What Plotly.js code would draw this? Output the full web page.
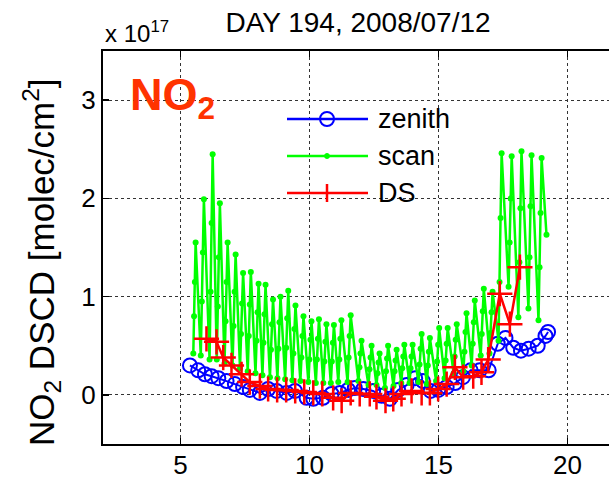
<!DOCTYPE html>
<html>
<head>
<meta charset="utf-8">
<script src="https://cdn.plot.ly/plotly-3.0.1.min.js"></script>
<style>
html, body { margin:0; padding:0; overflow:hidden; background:#fff; }
#chart { width:650px; height:481px; }
</style>
</head>
<body>
<div id="chart"></div>
<script>
// ---- data (units of 1e17 molec/cm^2, x in hours) ----
const zenithX = [5.37,5.69,5.95,6.21,6.47,6.79,7.11,7.43,7.69,8.08,8.40,8.73,9.12,9.44,9.89,10.15,10.53,10.86,11.18,11.50,11.76,12.09,12.47,12.80,13.12,13.44,13.77,14.10,14.40,14.70,15.00,15.32,15.65,15.95,16.25,16.60,16.95,17.30,17.60,17.90,18.20,18.50,18.85,19.15,19.25];
const zenithY = [0.30,0.25,0.21,0.19,0.17,0.14,0.11,0.08,0.05,0.02,0.06,0.04,0.02,0.04,-0.03,-0.04,-0.03,0.01,0.02,0.05,0.07,0.06,0.04,-0.01,-0.04,0.05,0.10,0.17,0.14,0.04,0.05,0.08,0.12,0.18,0.25,0.25,0.25,0.52,0.58,0.48,0.45,0.47,0.50,0.60,0.64];

const scanX = [
  5.50,5.53,5.56,5.59, 5.79,5.83,5.87,5.91, 6.13,6.17,6.21,6.25, 6.41,6.45,6.49,6.53,
  6.71,6.75,6.79,6.83, 7.02,7.06,7.10,7.14, 7.31,7.35,7.39,7.43, 7.61,7.65,7.69,7.73,
  7.91,7.95,7.99,8.03, 8.18,8.22,8.26,8.30, 8.47,8.51,8.55,8.59, 8.76,8.80,8.84,8.88,
  9.06,9.10,9.14,9.18, 9.34,9.38,9.42,9.46, 9.65,9.69,9.73,9.77, 9.96,10.00,10.04,10.08,
  10.25,10.29,10.33,10.37, 10.54,10.58,10.62,10.66, 10.83,10.87,10.91,10.95, 11.12,11.16,11.20,11.24,
  11.48,11.52,11.56,11.60, 11.90,11.94,11.98,12.02, 12.29,12.33,12.37,12.41, 12.60,12.64,12.68,12.72,
  12.93,12.97,13.01,13.05, 13.26,13.30,13.34,13.38, 13.56,13.60,13.64,13.68, 13.88,13.92,13.96,14.00,
  14.23,14.27,14.31,14.35, 14.55,14.59,14.63,14.67, 14.91,14.95,14.99,15.03, 15.24,15.28,15.32,15.36,
  15.59,15.63,15.67,15.71, 15.97,16.01,16.05,16.09, 16.29,16.33,16.37,16.41, 16.64,16.68,16.72,16.76,
  16.98,17.02,17.06,17.10, 17.33,17.37,17.41,17.45, 17.72,17.76,17.80,17.84, 18.10,18.14,18.18,18.22,
  18.49,18.53,18.57,18.61, 18.88,18.92,18.96,19.00, 19.19];
const scanY = [
  0.42,0.80,1.15,1.55, 0.40,0.95,1.45,1.99, 0.36,1.05,1.75,2.45, 0.36,0.90,1.40,1.95,
  0.32,0.75,1.15,1.55, 0.30,0.70,1.05,1.43, 0.27,0.62,0.93,1.24, 0.24,0.60,0.92,1.25,
  0.22,0.55,0.84,1.13, 0.20,0.53,0.82,1.12, 0.18,0.46,0.72,0.97, 0.17,0.47,0.74,1.00,
  0.16,0.48,0.78,1.06, 0.15,0.42,0.67,0.91, 0.14,0.38,0.60,0.80, 0.13,0.36,0.56,0.75,
  0.12,0.36,0.57,0.77, 0.12,0.34,0.54,0.72, 0.12,0.34,0.53,0.71, 0.13,0.36,0.57,0.76,
  0.13,0.38,0.60,0.81, 0.14,0.28,0.42,0.55, 0.10,0.26,0.38,0.50, 0.10,0.22,0.33,0.42,
  0.07,0.24,0.37,0.50, 0.09,0.24,0.35,0.46, 0.12,0.27,0.39,0.51, 0.12,0.27,0.39,0.51,
  0.13,0.31,0.47,0.62, 0.11,0.30,0.44,0.58, 0.14,0.34,0.51,0.68, 0.17,0.35,0.52,0.68,
  0.22,0.39,0.56,0.72, 0.24,0.44,0.64,0.83, 0.30,0.52,0.74,0.96, 0.40,0.62,0.85,1.08,
  0.42,0.63,0.84,1.05, 0.55,1.15,1.80,2.46, 1.10,1.55,2.00,2.43, 0.79,1.35,1.90,2.48,
  0.88,1.40,1.92,2.44, 0.76,1.30,1.85,2.41, 1.63];

const dsX = [6.01,6.40,6.66,6.98,7.37,7.69,8.08,8.40,8.75,9.10,9.45,9.80,10.15,10.50,10.92,11.25,11.60,11.95,12.34,12.60,12.95,13.25,13.57,13.96,14.35,14.67,14.99,15.32,15.64,15.96,16.35,16.67,16.93,17.38,17.77,18.16];
const dsY = [0.57,0.54,0.38,0.30,0.21,0.13,0.09,0.06,0.05,0.05,0.04,0.03,0.02,0.01,-0.03,-0.06,0.02,0.01,0.01,-0.02,-0.06,-0.04,0.01,0.04,0.02,0.02,0.06,0.11,0.28,0.18,0.19,0.23,0.36,1.03,0.72,1.30];

const seriesNames = ['zenith','scan','DS'];
const xTicks = [5,10,15,20];
const yTicks = [0,1,2,3];
const titleText = 'DAY 194, 2008/07/12';
const yTitle = 'NO<sub>2</sub> DSCD [molec/cm<sup>2</sup>]';

const FONT = 'Liberation Sans, Arial, Helvetica, sans-serif';
const colors = ['#0000ff','#00ff00','#ff0000'];

const traces = [
  {x: zenithX, y: zenithY, name: seriesNames[0], type:'scatter', mode:'lines+markers',
   line:{color:colors[0], width:2},
   marker:{symbol:'circle-open', size:14, color:colors[0], line:{width:2, color:colors[0]}}},
  {x: scanX, y: scanY, name: seriesNames[1], type:'scatter', mode:'lines+markers',
   line:{color:colors[1], width:2.5},
   marker:{symbol:'circle', size:6, color:colors[1]}},
  {x: dsX, y: dsY, name: seriesNames[2], type:'scatter', mode:'lines+markers',
   line:{color:colors[2], width:2.5},
   marker:{symbol:'cross-thin-open', size:18, color:colors[2], line:{width:2.5, color:colors[2]}}}
];

const L = 103, T = 51, B = 37, W = 650, H = 481;
const plotW = W - L, plotH = H - T - B;
const px = v => (v - L) / plotW;          // pixel -> paper x
const py = v => 1 - (v - T) / plotH;      // pixel -> paper y

const axisCommon = {
  showline:true, linecolor:'#000', linewidth:2, mirror:'ticks',
  ticks:'inside', ticklen:6, tickwidth:1.5, tickcolor:'#000',
  showgrid:true, gridcolor:'#333', griddash:'dot', gridwidth:1,
  zeroline:false, tickfont:{family:FONT, size:26, color:'#000'}
};

// hand-drawn legend (long MATLAB-style sample lines)
const legRows = [119, 156, 193];
const legX0 = 287, legX1 = 368, legMk = 327, legTxt = 376;
const shapes = [];
const annotations = [];
legRows.forEach((ry, i) => {
  shapes.push({type:'line', xref:'paper', yref:'paper', x0:px(legX0), x1:px(legX1), y0:py(ry), y1:py(ry),
               line:{color:colors[i], width:2.5}, layer:'above'});
  annotations.push({text:seriesNames[i], xref:'paper', yref:'paper', x:px(legTxt), y:py(ry),
                    xanchor:'left', yanchor:'middle', showarrow:false,
                    font:{family:FONT, size:27, color:'#000'}});
});
shapes.push({type:'circle', xref:'paper', yref:'paper', x0:px(legMk-7), x1:px(legMk+7),
             y0:py(legRows[0]-7), y1:py(legRows[0]+7), line:{color:colors[0], width:2},
             fillcolor:'rgba(0,0,0,0)', layer:'above'});
shapes.push({type:'circle', xref:'paper', yref:'paper', x0:px(legMk-2.5), x1:px(legMk+2.5),
             y0:py(legRows[1]-2.5), y1:py(legRows[1]+2.5), line:{color:colors[1], width:1},
             fillcolor:colors[1], layer:'above'});
shapes.push({type:'line', xref:'paper', yref:'paper', x0:px(legMk), x1:px(legMk),
             y0:py(legRows[2]-9), y1:py(legRows[2]+9), line:{color:colors[2], width:2.5}, layer:'above'});

annotations.push(
  {text:'x 10<sup>17</sup>', xref:'paper', yref:'paper', x:0, y:py(32),
   xanchor:'left', yanchor:'middle', showarrow:false, font:{family:FONT, size:24, color:'#000'}},
  {text:'<b>NO<sub>2</sub></b>', xref:'paper', yref:'paper', x:px(128), y:py(97),
   xanchor:'left', yanchor:'middle', showarrow:false, font:{family:FONT, size:45, color:'#ff3300'}},
  {text:yTitle, textangle:-90, xref:'paper', yref:'paper', x:px(41), y:py(262),
   xanchor:'center', yanchor:'middle', showarrow:false, font:{family:FONT, size:35, color:'#000'}}
);

const layout = {
  width: W, height: H,
  margin:{l:L, r:0, t:T, b:B, pad:0},
  paper_bgcolor:'#fff', plot_bgcolor:'#fff',
  showlegend:false,
  title:{text:titleText, font:{family:FONT, size:28, color:'#000'},
         xref:'paper', x:px(358), xanchor:'center',
         yref:'container', y:1-22/H, yanchor:'middle'},
  xaxis:Object.assign({}, axisCommon, {range:[2, 2+plotW/25.8], tickvals:xTicks, ticktext:xTicks.map(String), ticklabelstandoff:-3}),
  yaxis:Object.assign({}, axisCommon, {range:[-0.5,3.5], tickvals:yTicks, ticktext:yTicks.map(String)}),
  shapes: shapes,
  annotations: annotations
};

Plotly.newPlot('chart', traces, layout, {displayModeBar:false, staticPlot:true});
</script>
</body>
</html>
